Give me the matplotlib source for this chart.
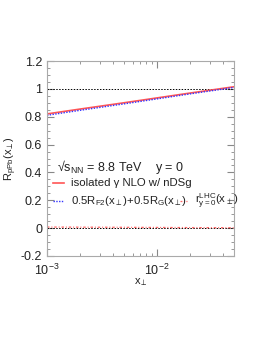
import matplotlib
matplotlib.use('Agg')
import matplotlib.pyplot as plt
import numpy as np

plt.rcParams['font.family'] = ['Liberation Sans', 'DejaVu Sans']
plt.rcParams['mathtext.fontset'] = 'custom'
plt.rcParams['mathtext.rm'] = 'Liberation Sans'
plt.rcParams['mathtext.it'] = 'Liberation Sans'

# data
x_perp = [1e-3, 2e-3, 5e-3, 1e-2, 2e-2, 5e-2]
r_nlo = [0.820, 0.855, 0.900, 0.935, 0.970, 1.015]
r_f2g = [0.810, 0.846, 0.892, 0.928, 0.964, 1.010]
r_lhc = [0.008, 0.007, 0.006, 0.005, 0.004, 0.003]
ref_one = [1.0, 1.0]
ref_zero = [0.0, 0.0]
x_ref = [1e-3, 5e-2]

fig = plt.figure(figsize=(2.70, 3.49), dpi=100)
ax = fig.add_axes([47/270, 1 - 256/349, (234 - 47)/270, (256 - 61)/349])

ax.plot(x_ref, ref_one, color='black', lw=0.7, ls=(0, (1.5, 1.5)))
ax.plot(x_ref, ref_zero, color='black', lw=0.7, ls=(0, (1.5, 1.5)))
ax.plot(x_perp, r_nlo, color='#ff5555', lw=1.2)
ax.plot(x_perp, r_f2g, color='#3333ff', lw=1.0, ls=(0, (1, 1)))
ax.plot(x_perp, r_lhc, color='#ff6666', lw=0.9, ls=(0, (2, 1.5, 0.8, 1.5)))

ax.set_xscale('log')
ax.set_xlim(1e-3, 5e-2)
ax.set_ylim(-0.2, 1.2)
ax.set_yticks(np.arange(-0.2, 1.21, 0.2))
ax.set_yticklabels(['-0.2', '0', '0.2', '0.4', '0.6', '0.8', '1', '1.2'])
ax.set_yticks(np.arange(-0.2, 1.21, 0.05), minor=True)
ax.set_xticks([1e-3, 1e-2])
ax.set_xticklabels(['$10^{-3}$', '$10^{-2}$'])
ax.tick_params(which='both', direction='in', top=True, right=True, colors='#888888',
               labelcolor='#222222', labelsize=9)
ax.tick_params(axis='x', which='major', pad=5, length=5)
ax.tick_params(axis='y', which='major', length=5)
ax.tick_params(which='minor', length=2.5)
for s in ax.spines.values():
    s.set_color('#aaaaaa')
    s.set_linewidth(0.8)

ax.set_ylabel(r'R$_{\mathrm{pPb}}$(x$_{\perp}$)', fontsize=8, color='#222222')
ax.yaxis.set_label_coords(-0.15, 0.5)
ax.set_xlabel(r'x$_{\perp}$', fontsize=8, color='#222222')
ax.xaxis.set_label_coords(0.50, -0.105)

tc = '#222222'
ax.text(0.055, 0.455, r'√s$_{\mathrm{NN}}$ = 8.8 TeV    y = 0', transform=ax.transAxes,
        fontsize=9, color=tc, va='center')
ax.plot([0.03, 0.09], [0.375, 0.375], transform=ax.transAxes, color='#ff5555', lw=1.2)
ax.text(0.13, 0.375, 'isolated γ NLO w/ nDSg', transform=ax.transAxes, fontsize=8.2,
        color=tc, va='center')
ax.plot([0.03, 0.09], [0.28, 0.28], transform=ax.transAxes, color='#3333ff', lw=1.0,
        ls=(0, (1, 1)))
ax.text(0.13, 0.28, r'0.5R$_{\mathrm{F2}}$(x$_{\perp}$)+0.5R$_{\mathrm{G}}$(x$_{\perp}$)',
        transform=ax.transAxes, fontsize=8.2, color=tc, va='center')
ax.plot([0.71, 0.75], [0.28, 0.28], transform=ax.transAxes, color='#ff6666', lw=0.9,
        ls=(0, (1.5, 1.2, 0.8, 1.2)))
ax.text(0.79, 0.28, r'r$^{\mathrm{LHC}}_{\mathrm{y=0}}$(x$_{\perp}$)',
        transform=ax.transAxes, fontsize=8.2, color=tc, va='center')

fig.savefig('out.png', dpi=100)
